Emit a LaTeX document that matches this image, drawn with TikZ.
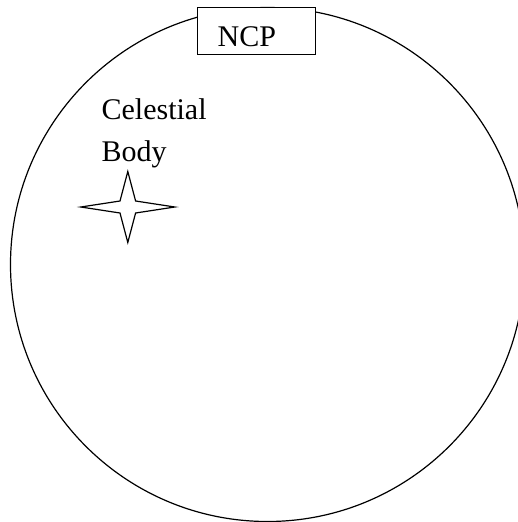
\documentclass[tikz,border=0pt]{standalone}
\usepackage{fontspec}
\setmainfont{Liberation Serif}
\begin{document}
\begin{tikzpicture}[x=0.75pt,y=-0.75pt,line width=0.9pt,
  lbl/.style={font=\fontsize{22.5pt}{27pt}\selectfont, inner sep=0pt, anchor=base west},
  boxstyle/.style={draw, fill=white, inner sep=0pt, minimum width=88.5pt, minimum height=35.25pt, anchor=north west}]
\clip (0,0) rectangle (518,522);
% celestial sphere
\draw (267.5,264.5) circle [radius=192.75pt];
% NCP box
\node[boxstyle] (ncpbox) at (197,7) {};
\node[lbl] (ncp) at (217,46) {NCP};
% labels
\node[lbl] (cel) at (101,119.3) {Celestial};
\node[lbl] (body) at (101,161.5) {Body};
% star
\begin{scope}[shift={(127.8,207)}]
\draw[line join=miter] (-47,0) -- (-7.8,-6) -- (0,-35.5) -- (7.8,-6) -- (47,0) -- (7.8,6) -- (0,35.5) -- (-7.8,6) -- cycle;
\end{scope}
\end{tikzpicture}
\end{document}
